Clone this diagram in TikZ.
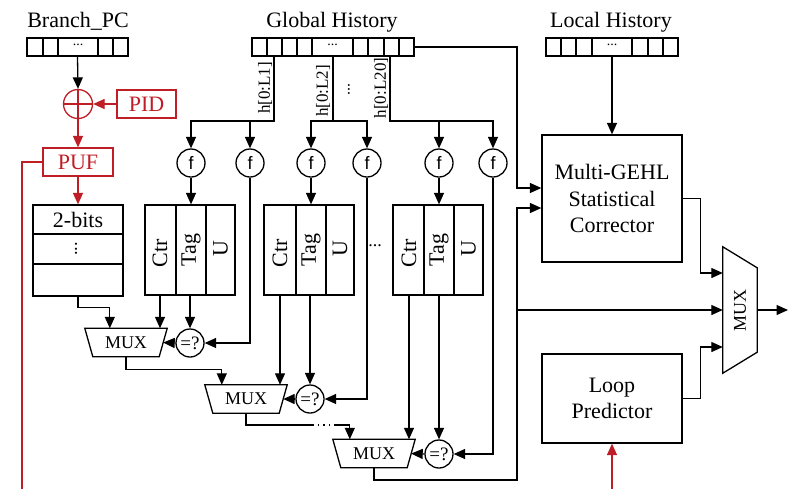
\documentclass[tikz,border=0pt]{standalone}
\usepackage{fontspec}
\setmainfont{Liberation Serif}
\newfontfamily\sansf{Liberation Sans}
\usetikzlibrary{arrows.meta,calc}
\definecolor{pred}{RGB}{192,30,38}

\begin{document}
\begin{tikzpicture}[x=1pt,y=-1pt,
  wire/.style={line width=1.3pt},
  arr/.style={wire,-{Triangle[length=11.5pt,width=10pt]}},
  box/.style={draw, line width=1.3pt, inner sep=0pt, align=center,
    font=\fontsize{22}{26.5}\selectfont},
  bar/.style={draw, line width=1.1pt, inner sep=0pt, minimum height=18pt},
  lbl/.style={font=\fontsize{22}{26}\selectfont, anchor=base, inner sep=0pt},
  rot/.style={rotate=90, inner sep=0pt, font=\fontsize{22}{22}\selectfont},
  hlbl/.style={rotate=90, inner sep=0pt, font=\fontsize{17}{17}\selectfont},
  fcirc/.style={draw, circle, line width=1.3pt, minimum size=28pt, inner sep=0pt,
    font=\sansf\fontsize{18}{18}\selectfont},
  ecirc/.style={draw, circle, line width=1.3pt, minimum size=28pt, inner sep=0pt,
    font=\fontsize{19}{19}\selectfont},
  muxbox/.style={inner sep=0pt, minimum width=82pt, minimum height=28pt,
    font=\fontsize{18}{18}\selectfont},
  redbox/.style={box, draw=pred, text=pred, minimum height=28pt},
  dotsf/.style={font=\fontsize{14}{14}\selectfont, inner sep=0pt}
]
\useasboundingbox (0,0) rectangle (789,488);
\fill[white] (0,0) rectangle (789,488);

% ---- history registers ----
\node[lbl] (pclbl) at (78,27) {Branch\_PC};
\node[bar, minimum width=101pt] (pcbar) at (77.5,47) {};
\foreach \c in {43,58,98,113} \draw[line width=1.1pt] (\c,38) -- (\c,56);
\node[dotsf] (pcdots) at (78,45) {...};

\node[lbl] (ghlbl) at (332,27) {Global History};
\node[bar, minimum width=162pt] (ghbar) at (333,47) {};
\foreach \c in {267,282,297,312,353,368,384,399} \draw[line width=1.1pt] (\c,38) -- (\c,56);
\node[dotsf] (ghdots) at (332.5,45) {...};

\node[lbl] (lhlbl) at (611,27) {Local History};
\node[bar, minimum width=132pt] (lhbar) at (612,47) {};
\foreach \c in {561,576,592,632,648,663} \draw[line width=1.1pt] (\c,38) -- (\c,56);
\node[dotsf] (lhdots) at (612,45) {...};

% ---- PC hashing with PID and PUF ----
\node[draw=pred, circle, line width=1.3pt, minimum size=29pt, inner sep=0pt] (xor) at (78,104) {};
\draw[pred, wire] (xor.north) -- (xor.south) (xor.west) -- (xor.east);
\node[redbox, minimum width=59pt] (pid) at (146.5,104) {PID};
\node[redbox, minimum width=70pt] (puf) at (78,162) {PUF};

% ---- bimodal base table ----
\node[draw, line width=1.3pt, minimum width=90pt, minimum height=91pt, inner sep=0pt] (bim) at (78,250.5) {};
\draw[wire] (33,234) -- (123,234) (33,264) -- (123,264);
\node[font=\fontsize{22}{22}\selectfont, inner sep=0pt] (bimtxt) at (78,220) {2-bits};
\node[rotate=90, inner sep=0pt, font=\fontsize{18}{18}\selectfont] (bimdots) at (76,249) {...};

% ---- tagged tables ----
\foreach \n/\cx/\ca/\cb in {t1/190/176/206, t2/309/296/326, t3/438/424/454} {
  \node[draw, line width=1.3pt, minimum width=90pt, minimum height=90pt, inner sep=0pt] (\n) at (\cx,250) {};
  \draw[wire] (\ca,205) -- (\ca,295) (\cb,205) -- (\cb,295);
}
\node[rot] (c1) at (160,253) {Ctr};
\node[rot] (g1) at (191,250) {Tag};
\node[rot] (u1) at (220.5,249) {U};
\node[rot] (c2) at (280,253) {Ctr};
\node[rot] (g2) at (311,250) {Tag};
\node[rot] (u2) at (340,249) {U};
\node[rot] (c3) at (409,253) {Ctr};
\node[rot] (g3) at (439,250) {Tag};
\node[rot] (u3) at (468.5,249) {U};
\node[font=\fontsize{18}{18}\selectfont, inner sep=0pt] (tdots) at (375,246) {...};

% ---- hash functions ----
\node[fcirc] (f1) at (191,163) {f};
\node[fcirc] (f2) at (250,163) {f};
\node[fcirc] (f3) at (311,163) {f};
\node[fcirc] (f4) at (367,163) {f};
\node[fcirc] (f5) at (439,163) {f};
\node[fcirc] (f6) at (493,163) {f};

% ---- history slices ----
\coordinate (h1) at (274,121);
\coordinate (h2) at (333,121);
\coordinate (h3) at (390,121);
\draw[arr] (ghbar.south -| h1) -- (h1) -| (f1.north);
\draw[arr] (h1 -| f2) -- (f2.north);
\draw[wire] (ghbar.south -| h2) -- (h2);
\draw[arr] (h2) -| (f3.north);
\draw[arr] (h2) -| (f4.north);
\draw[arr] (ghbar.south -| h3) -- (h3) -| (f6.north);
\draw[arr] (h3 -| f5) -- (f5.north);
\node[hlbl] (hl1) at (265,88) {h[0:L1]};
\node[hlbl] (hl2) at (323,91) {h[0:L2]};
\node[hlbl] (hl3) at (381,88) {h[0:L20]};
\node[hlbl, font=\fontsize{16}{16}\selectfont] (hdots) at (349,89) {...};

% ---- comparators and multiplexers ----
\node[ecirc] (e1) at (190,343) {=?};
\node[ecirc] (e2) at (310,399) {=?};
\node[ecirc] (e3) at (439,454) {=?};
\node[muxbox] (m1) at (126,342.5) {MUX};
\node[muxbox] (m2) at (246,399) {MUX};
\node[muxbox] (m3) at (374,453.5) {MUX};
\foreach \m in {m1,m2,m3}
  \draw[wire] (\m.north west) -- (\m.north east) -- ($(\m.south east)+(-8,0)$)
    -- ($(\m.south west)+(8,0)$) -- cycle;

% table outputs
\draw[arr] (f1.south) -- (f1.south |- t1.north);
\draw[arr] (f3.south) -- (f3.south |- t2.north);
\draw[arr] (f5.south) -- (f5.south |- t3.north);
\draw[arr] (c1 |- t1.south) -- (c1 |- m1.north);
\draw[arr] (c2 |- t2.south) -- (c2 |- m2.north);
\draw[arr] (c3 |- t3.south) -- (c3 |- m3.north);
\draw[arr] (e1 |- t1.south) -- (e1.north);
\draw[arr] (e2 |- t2.south) -- (e2.north);
\draw[arr] (e3 |- t3.south) -- (e3.north);
\draw[arr] (f2.south) |- (e1.east);
\draw[arr] (f4.south) |- (e2.east);
\draw[arr] (f6.south) |- (e3.east);
\draw[arr] (e1.west) -- ($(m1.east)+(-4,0)$);
\draw[arr] (e2.west) -- ($(m2.east)+(-4,0)$);
\draw[arr] (e3.west) -- ($(m3.east)+(-4,0)$);

% multiplexer chain
\draw[arr] (bim.south) -- ++(0,11) -| ($(m1.north west)+(25,0)$);
\draw[arr] (m1.south) -- ++(0,12.5) -| ($(m2.north west)+(17,0)$);
\coordinate (dA) at (312,425);
\coordinate (dB) at (334,425);
\draw[wire] (m2.south) |- (dA);
\draw[line width=1.5pt, dash pattern=on 1.6pt off 4pt] (dA) -- (dB);
\draw[arr] (dB) -| ($(m3.north west)+(17,0)$);

% ---- statistical corrector and loop predictor ----
\node[box, minimum width=140pt, minimum height=127pt] (gehl) at (612,198.5)
  {Multi-GEHL\\Statistical\\Corrector};
\node[box, minimum width=140pt, minimum height=89pt] (loop) at (612,398.5)
  {Loop\\Predictor};
\node[inner sep=0pt, minimum width=34pt, minimum height=126pt] (fm) at (740,310) {};
\draw[wire] (fm.north west) -- ($(fm.north east)+(0,21)$) -- ($(fm.south east)+(0,-21)$)
  -- (fm.south west) -- cycle;
\node[rot, font=\fontsize{18}{18}\selectfont] (fmtxt) at (fm.center) {MUX};
\coordinate (out) at (788,310);
\coordinate (jb) at (517,480);
\coordinate (jm) at (517,310);

\draw[arr] (lhbar.south) -- (gehl.north);
\draw[arr] (ghbar.east) -| (517,188) -- (gehl.west |- 0,188);
\draw[arr] (m3.south) |- (jb) -- (517,208) -- (gehl.west |- 0,208);
\draw[arr] (jm) -- (fm.west);
\draw[arr] (gehl.east) -- ++(18,0) |- ($(fm.west)+(0,-37)$);
\draw[arr] (loop.east) -- ++(18,0) |- ($(fm.west)+(0,37)$);
\draw[arr] (fm.east) -- (out);

% ---- PC path ----
\draw[arr] (pcbar.south) -- (xor.north);
\draw[arr, pred] (pid.west) -- (xor.east);
\draw[arr, pred] (xor.south) -- (puf.north);
\draw[arr, pred] (puf.south) -- (bim.north);
\draw[arr, pred] (puf.west) -| (22,500) -| (loop.south);
\end{tikzpicture}
\end{document}
